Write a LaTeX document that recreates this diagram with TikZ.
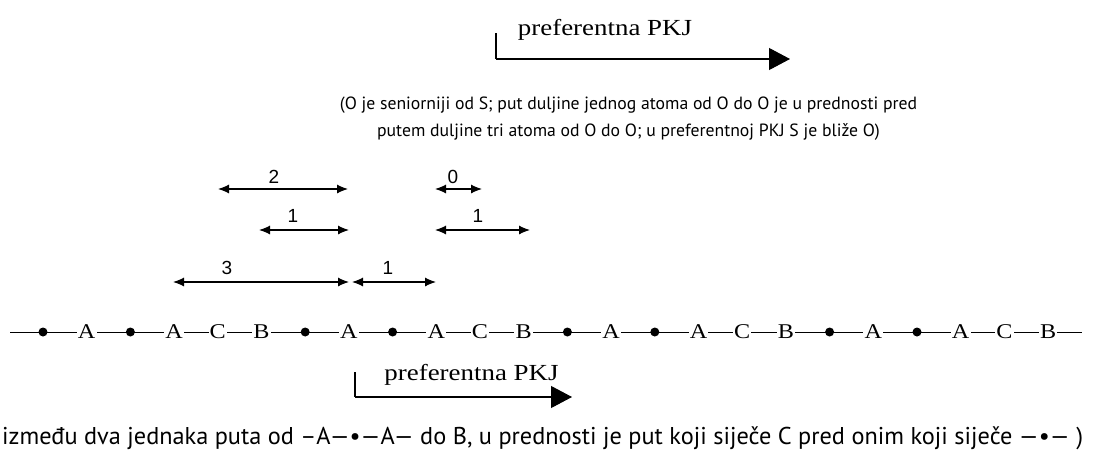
\documentclass[tikz,border=0pt]{standalone}
\usepackage{fontspec}
\setmainfont{Liberation Serif}
\newfontfamily\parafont{PT Sans}
\newfontfamily\labfont{Liberation Sans}
\usetikzlibrary{arrows.meta}
\begin{document}
\begin{tikzpicture}[x=1pt,y=-1pt,
  dotn/.style={circle,fill=black,inner sep=0pt,minimum size=9pt},
  letn/.style={fill=white,inner sep=1.2pt,font=\fontsize{21}{21}\selectfont},
  dim/.style={line width=1.1pt,{Latex[length=11pt,width=9pt]}-{Latex[length=11pt,width=9pt]}},
  diml/.style={font=\labfont\fontsize{19}{19}\selectfont,inner sep=0pt},
  pkj/.style={line width=1.1pt,-{Triangle[length=21pt,width=22pt]}},
  pkjt/.style={font=\fontsize{23}{23}\selectfont,inner sep=0pt,anchor=base},
  para/.style={font=\parafont\fontsize{17.7}{17.7}\selectfont,inner sep=0pt,anchor=base}
]
\useasboundingbox (0,0) rectangle (1095,450);
% top preferred direction
\coordinate (t0) at (496,33);
\coordinate (t1) at (496,59);
\coordinate (t2) at (790,59);
\draw[line width=1.1pt] (t0) -- (t1);
\draw[pkj] (t1) -- (t2);
\node[pkjt] (ttxt) at (605,35) {\scalebox{1.17}[1]{preferentna PKJ}};
% explanation
\node[para] (p1) at (628.5,109) {(O je seniorniji od S; put duljine jednog atoma od O do O je u prednosti pred};
\node[para] (p2) at (628.5,136) {putem duljine tri atoma od O do O; u preferentnoj PKJ S je bliže O)};
% chain
\coordinate (cs) at (10,332);
\coordinate (ce) at (1082,332);
\draw[line width=0.8pt] (cs) -- (ce);
\foreach \i/\t/\s in {0/dotn/{},1/letn/A,2/dotn/{},3/letn/A,4/letn/C,5/letn/B,
  6/dotn/{},7/letn/A,8/dotn/{},9/letn/A,10/letn/C,11/letn/B,
  12/dotn/{},13/letn/A,14/dotn/{},15/letn/A,16/letn/C,17/letn/B,
  18/dotn/{},19/letn/A,20/dotn/{},21/letn/A,22/letn/C,23/letn/B}
  \node[\t] (n\i) at ({43+43.7*\i},332) {\scalebox{1.15}[1]{\s}};
% distance arrows
\coordinate (a2l) at (218,189); \coordinate (a2r) at (348,189);
\coordinate (a0l) at (435,189); \coordinate (a0r) at (482,189);
\coordinate (b1l) at (259,230); \coordinate (b1r) at (349,230);
\coordinate (c1l) at (435,230); \coordinate (c1r) at (530,230);
\coordinate (d3l) at (173,282); \coordinate (d3r) at (349,282);
\coordinate (e1l) at (352,282); \coordinate (e1r) at (436,282);
\draw[dim] (a2l) -- (a2r);
\draw[dim] (a0l) -- (a0r);
\draw[dim] (b1l) -- (b1r);
\draw[dim] (c1l) -- (c1r);
\draw[dim] (d3l) -- (d3r);
\draw[dim] (e1l) -- (e1r);
\node[diml] (l2) at (274,177) {2};
\node[diml] (l0) at (453,177) {0};
\node[diml] (l1a) at (293,216) {1};
\node[diml] (l1b) at (478,216) {1};
\node[diml] (l3) at (227,268) {3};
\node[diml] (l1c) at (388,268) {1};
% bottom preferred direction
\coordinate (b0) at (355,372);
\coordinate (b1) at (355,397);
\coordinate (b2) at (572,397);
\draw[line width=1.1pt] (b0) -- (b1);
\draw[pkj] (b1) -- (b2);
\node[pkjt] (btxt) at (471.5,380) {\scalebox{1.17}[1]{preferentna PKJ}};
% rule
\node[para,anchor=base west,font=\parafont\fontsize{24.3}{24.3}\selectfont] (rule) at (2,444) {između dva jednaka puta od –A—•—A— do B, u prednosti je put koji siječe C pred onim koji siječe —•— )};
\end{tikzpicture}
\end{document}
